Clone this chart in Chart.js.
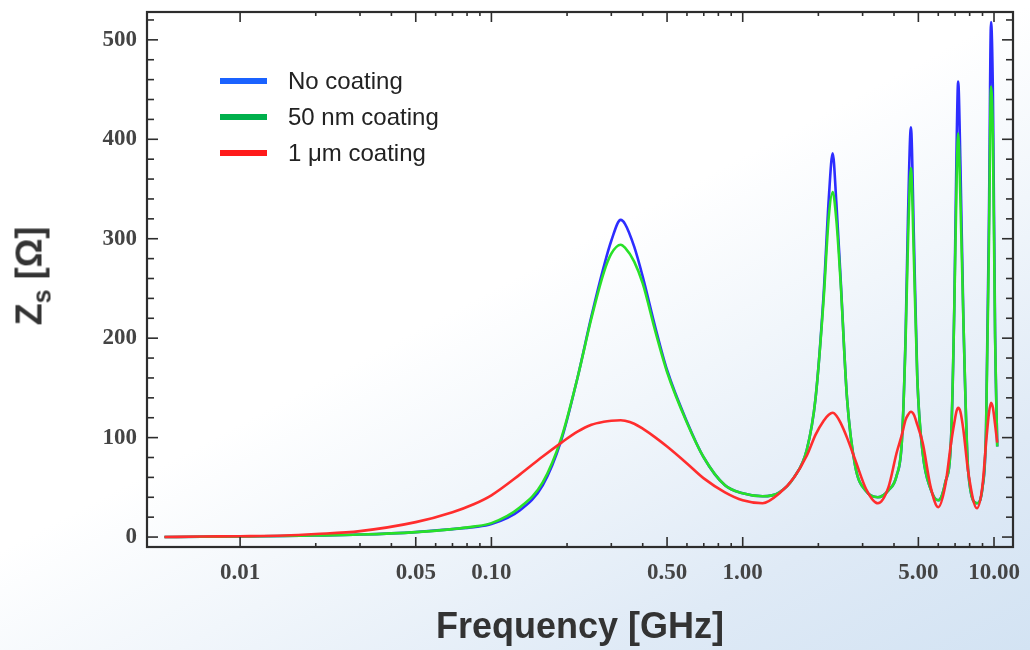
<!DOCTYPE html>
<html>
<head>
<meta charset="utf-8">
<script src="https://cdn.jsdelivr.net/npm/chart.js@4.4.0/dist/chart.umd.min.js"></script>
<style>
  html, body { margin: 0; padding: 0; }
  body {
    width: 1030px; height: 650px; overflow: hidden;
    background: linear-gradient(152deg, #ffffff 0%, #ffffff 46%, #f1f6fb 62%, #dfeaf6 82%, #d3e3f3 100%);
    font-family: "Liberation Sans", Arial, sans-serif;
  }
  #wrap { position: relative; width: 1030px; height: 650px; }
  #zs {
    position: absolute; left: 33px; top: 276px;
    transform: translate(-50%, -50%) rotate(-90deg);
    font: bold 36px "Liberation Sans", Arial, sans-serif;
    color: #333; white-space: nowrap; line-height: 1;
  }
  #zs sub { font-size: 25px; vertical-align: -9px; line-height: 1; }
  .leg { position: absolute; left: 220px; height: 24px; display: flex; align-items: center;
         font: 24px "Liberation Sans", Arial, sans-serif; color: #222; white-space: nowrap; }
  .leg i { display: inline-block; width: 47px; height: 6px; margin-right: 21px; }
</style>
</head>
<body>
<div id="wrap">
  <canvas id="zsChart" width="1030" height="650"></canvas>
  <div id="zs">Z<sub>s</sub> [Ω]</div>
  <div class="leg" style="top:69px"><i style="background:#1a62ff"></i>No coating</div>
  <div class="leg" style="top:105px"><i style="background:#00b04c"></i>50 nm coating</div>
  <div class="leg" style="top:141px"><i style="background:#ff1a1a"></i>1 μm coating</div>
</div>
<script>
// frequency in GHz
const freqGHz = [0.005, 0.007, 0.01, 0.015, 0.02, 0.03, 0.05, 0.07, 0.085, 0.1, 0.13, 0.16, 0.19, 0.22, 0.25, 0.28, 0.3, 0.327, 0.34, 0.37, 0.4, 0.45, 0.5, 0.6, 0.7, 0.85, 1.0, 1.2, 1.4, 1.6, 1.8, 1.95, 2.1, 2.2, 2.28, 2.36, 2.45, 2.6, 2.8, 3.1, 3.45, 3.8, 4.1, 4.3, 4.45, 4.55, 4.67, 4.8, 4.95, 5.2, 5.6, 6.0, 6.4, 6.75, 6.95, 7.1, 7.2, 7.35, 7.55, 7.9, 8.55, 9.0, 9.3, 9.55, 9.73, 9.9, 10.1, 10.3];

// Zs in Ohm
const noCoating = [0, 0.3, 0.5, 1, 1.5, 2.5, 5, 8, 10, 13, 27, 52, 98, 160, 222, 272, 298, 319, 315, 292, 262, 210, 168, 116, 80, 52, 44, 41, 45, 60, 88, 140, 245, 340, 386, 335, 262, 140, 72, 46, 40, 47, 62, 97, 205, 325, 412, 300, 162, 85, 48, 37, 55, 100, 232, 395, 458, 375, 222, 65, 34, 50, 110, 325, 518, 445, 205, 91];
const coating50nm = [0, 0.3, 0.5, 1, 1.5, 2.5, 5, 8, 10.5, 14, 30, 55, 100, 160, 220, 266, 285, 294, 291, 277, 255, 206, 166, 115, 80, 52, 44, 41, 45, 60, 88, 140, 240, 322, 347, 318, 258, 140, 72, 46, 40, 47, 62, 97, 200, 300, 371, 280, 160, 85, 48, 37, 55, 100, 230, 360, 406, 340, 220, 65, 34, 50, 110, 300, 453, 400, 200, 91];
const coating1um = [0, 0.5, 0.8, 1.5, 3, 6, 15, 25, 33, 42, 63, 81, 95, 106, 113, 116, 117, 117.5, 117, 114, 109, 100, 91, 74, 59, 45, 37, 34, 44, 60, 82, 103, 117, 123, 125, 122, 115, 100, 78, 48, 34, 50, 85, 103, 118, 123, 126, 123, 113, 95, 50, 30, 52, 95, 115, 127, 130, 126, 108, 65, 29, 52, 95, 125, 135, 130, 113, 95];

const xTickValues = [0.01, 0.05, 0.1, 0.5, 1, 5, 10];
const xTickLabels = ['0.01', '0.05', '0.10', '0.50', '1.00', '5.00', '10.00'];
const xMinorTicks = [0.02, 0.03, 0.04, 0.06, 0.07, 0.08, 0.09, 0.2, 0.3, 0.4, 0.6, 0.7, 0.8, 0.9, 2, 3, 4, 6, 7, 8, 9];
const yTickValues = [0, 100, 200, 300, 400, 500];
const yMinorTicks = [20, 40, 60, 80, 120, 140, 160, 180, 220, 240, 260, 280, 320, 340, 360, 380, 420, 440, 460, 480, 520];

function toPoints(values) {
    return freqGHz.map((f, i) => ({ x: f, y: values[i] }));
}

const frameTicks = {
    id: 'frameTicks',
    afterDraw(chart) {
        const { ctx, chartArea: a, scales: { x, y } } = chart;
        ctx.save();
        ctx.strokeStyle = '#2d2d2d';
        ctx.lineWidth = 1.6;
        const seg = (x1, y1, x2, y2) => { ctx.beginPath(); ctx.moveTo(x1, y1); ctx.lineTo(x2, y2); ctx.stroke(); };
        xTickValues.forEach(v => {
            const p = x.getPixelForValue(v);
            seg(p, a.bottom, p, a.bottom - 10);
            seg(p, a.top, p, a.top + 10);
        });
        xMinorTicks.forEach(v => {
            const p = x.getPixelForValue(v);
            seg(p, a.bottom, p, a.bottom - 4);
            seg(p, a.top, p, a.top + 4);
        });
        yTickValues.forEach(v => {
            const p = y.getPixelForValue(v);
            seg(a.left, p, a.left + 11, p);
            seg(a.right, p, a.right - 11, p);
        });
        yMinorTicks.forEach(v => {
            const p = y.getPixelForValue(v);
            seg(a.left, p, a.left + 7, p);
            seg(a.right, p, a.right - 7, p);
        });
        ctx.lineWidth = 2.2;
        ctx.strokeRect(a.left, a.top, a.right - a.left, a.bottom - a.top);
        ctx.restore();
    }
};

const tickFont = { family: '"Liberation Serif", "DejaVu Serif", serif', size: 23, weight: 'bold' };

new Chart(document.getElementById('zsChart'), {
    type: 'line',
    data: {
        datasets: [
            { label: 'No coating', data: toPoints(noCoating), borderColor: 'rgb(45,45,255)', order: 3 },
            { label: '50 nm coating', data: toPoints(coating50nm), borderColor: 'rgb(40,225,40)', order: 2 },
            { label: '1 μm coating', data: toPoints(coating1um), borderColor: 'rgb(255,45,45)', order: 1 }
        ]
    },
    options: {
        responsive: false,
        animation: false,
        events: [],
        layout: { padding: { left: 0, right: 17, top: 12, bottom: 0 } },
        elements: {
            point: { radius: 0 },
            line: { borderWidth: 2.6, cubicInterpolationMode: 'monotone', fill: false }
        },
        plugins: { legend: { display: false }, tooltip: { enabled: false } },
        scales: {
            x: {
                type: 'logarithmic',
                min: 0.004261,
                max: 11.9,
                afterBuildTicks: s => { s.ticks = xTickValues.map(v => ({ value: v })); },
                afterFit: s => { s.height = 103; s.paddingLeft = 0; s.paddingRight = 0; },
                grid: { display: false, drawTicks: false },
                border: { display: false },
                ticks: {
                    autoSkip: false, maxRotation: 0, padding: 12,
                    color: '#444', font: tickFont,
                    callback: (v, i) => xTickLabels[i]
                },
                title: {
                    display: true, text: 'Frequency [GHz]', color: '#333',
                    font: { family: '"Liberation Sans", Arial, sans-serif', size: 36, weight: 'bold' },
                    padding: { top: 4, bottom: 0 }
                }
            },
            y: {
                min: -10,
                max: 528,
                afterBuildTicks: s => { s.ticks = yTickValues.map(v => ({ value: v })); },
                afterFit: s => { s.width = 147; s.paddingTop = 0; s.paddingBottom = 0; },
                grid: { display: false, drawTicks: false },
                border: { display: false },
                ticks: { padding: 10, color: '#444', font: tickFont }
            }
        }
    },
    plugins: [frameTicks]
});
</script>
</body>
</html>
